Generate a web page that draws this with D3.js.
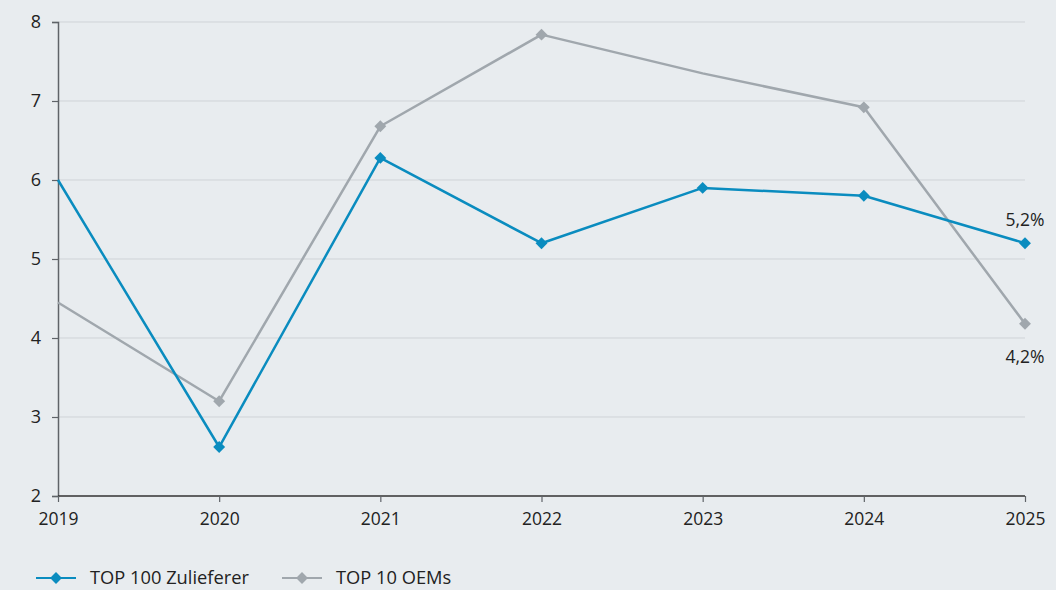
<!DOCTYPE html>
<html>
<head>
<meta charset="utf-8">
<script src="https://cdn.jsdelivr.net/npm/d3@7"></script>
<style>
  html, body { margin: 0; padding: 0; background: #e8ecef; }
  svg { display: block; }
  svg text { font-family: "Open Sans", "Noto Sans", sans-serif; }
</style>
</head>
<body>
<svg id="chart" width="1056" height="590"></svg>
<script>
// Years on the x axis
const years = [2019, 2020, 2021, 2022, 2023, 2024, 2025];
// EBIT margin (%) per series
const suppliers = [6.0, 2.62, 6.28, 5.2, 5.9, 5.8, 5.2];
const oems = [4.45, 3.2, 6.68, 7.84, 7.35, 6.92, 4.18];
// Which points carry a diamond marker
const supplierMarkers = [false, true, true, true, true, true, true];
const oemMarkers = [false, true, true, true, false, true, true];
// Y axis ticks
const yTicks = [2, 3, 4, 5, 6, 7, 8];
// Series names
const seriesNames = ["TOP 100 Zulieferer", "TOP 10 OEMs"];
// End labels
const endLabels = ["5,2%", "4,2%"];

const colors = ["#0a8cbf", "#a0a7ad"];

const svg = d3.select("#chart");
const margin = { left: 58, right: 1025, top: 22, bottom: 496 };

const x = d3.scalePoint().domain(years).range([margin.left, margin.right]);
const y = d3.scaleLinear().domain([2, 8]).range([margin.bottom, margin.top]);

// Gridlines
svg.append("g")
  .selectAll("line")
  .data(yTicks.filter(d => d > 2))
  .join("line")
  .attr("x1", margin.left).attr("x2", margin.right)
  .attr("y1", d => y(d)).attr("y2", d => y(d))
  .attr("stroke", "#cfd3d7").attr("stroke-width", 1);

// Y axis
const yAxis = svg.append("g")
  .attr("transform", `translate(${margin.left},0)`)
  .call(d3.axisLeft(y).tickValues(yTicks).tickSize(6).tickPadding(11).tickFormat(d3.format("d")));
yAxis.attr("font-family", null).attr("font-size", null);
yAxis.select(".domain").attr("stroke", "#5f6368").attr("stroke-width", 1.5);
yAxis.selectAll(".tick line").attr("stroke", "#5f6368").attr("stroke-width", 1.2);
yAxis.selectAll(".tick text").attr("fill", "#222").style("font-size", "18px");

// X axis
const xAxis = svg.append("g")
  .attr("transform", `translate(0,${margin.bottom})`)
  .call(d3.axisBottom(x).tickSize(6).tickPadding(11).tickFormat(d3.format("d")));
xAxis.attr("font-family", null).attr("font-size", null);
xAxis.select(".domain").attr("stroke", "#333").attr("stroke-width", 1.5)
  .attr("d", `M${margin.left},0H${margin.right}`);
xAxis.selectAll(".tick line").attr("stroke", "#5f6368").attr("stroke-width", 1.2);
xAxis.selectAll(".tick text").attr("fill", "#222").style("font-size", "17.5px");

const line = d3.line().x((d, i) => x(years[i])).y(d => y(d));
const diamond = d3.symbol().type(d3.symbolDiamond2).size(90);

function drawSeries(values, markers, color) {
  svg.append("path")
    .datum(values)
    .attr("fill", "none")
    .attr("stroke", color)
    .attr("stroke-width", 2.5)
    .attr("stroke-linejoin", "round")
    .attr("d", line);
  svg.append("g")
    .selectAll("path")
    .data(values.map((v, i) => ({ v, i })).filter(d => markers[d.i]))
    .join("path")
    .attr("d", diamond)
    .attr("fill", color)
    .attr("transform", d => `translate(${x(years[d.i])},${y(d.v)})`);
}

// Gray series underneath, blue on top
drawSeries(oems, oemMarkers, colors[1]);
drawSeries(suppliers, supplierMarkers, colors[0]);

// End value labels
const last = years.length - 1;
svg.append("text")
  .attr("x", x(years[last])).attr("y", y(suppliers[last]) - 17)
  .attr("text-anchor", "middle").attr("fill", "#222").style("font-size", "17.5px")
  .text(endLabels[0]);
svg.append("text")
  .attr("x", x(years[last])).attr("y", y(oems[last]) + 39)
  .attr("text-anchor", "middle").attr("fill", "#222").style("font-size", "17.5px")
  .text(endLabels[1]);

// Legend
const legendItems = [{ x: 36 }, { x: 282 }];
legendItems.forEach((it, i) => {
  const g = svg.append("g").attr("transform", `translate(${it.x},578)`);
  g.append("line").attr("x1", 0).attr("x2", 40).attr("y1", 0).attr("y2", 0)
    .attr("stroke", colors[i]).attr("stroke-width", 2.2);
  g.append("path").attr("d", diamond).attr("fill", colors[i])
    .attr("transform", "translate(20,0)");
  g.append("text").attr("x", 54).attr("y", 0).attr("dy", "0.35em")
    .attr("fill", "#222").style("font-size", "18.3px").text(seriesNames[i]);
});
</script>
</body>
</html>
